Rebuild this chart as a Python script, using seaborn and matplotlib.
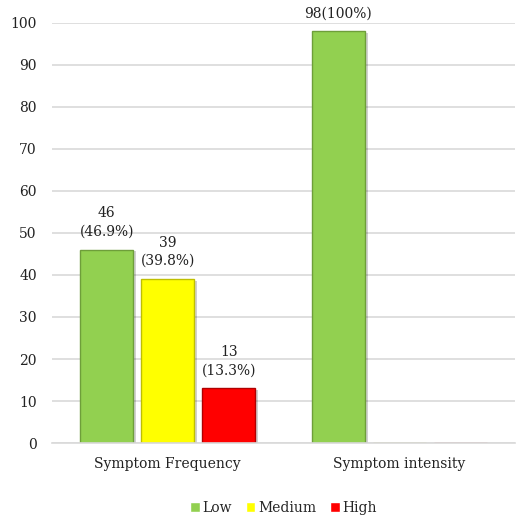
"""Symptom frequency and intensity, grouped bars by level."""
import pandas as pd
import matplotlib.pyplot as plt
import matplotlib.patheffects as pe
import seaborn as sns

CATEGORIES = ["Symptom Frequency", "Symptom intensity"]
LEVELS = ["Low", "Medium", "High"]
FREQUENCY = [46, 39, 13]
INTENSITY = [98, 0, 0]
BAR_LABELS = {
    "Low": ["46\n(46.9%)", "98(100%)"],
    "Medium": ["39\n(39.8%)", ""],
    "High": ["13\n(13.3%)", ""],
}
COLORS = ["#92D050", "#FFFF00", "#FF0000"]
EDGES = ["#6E9E3A", "#BFBF00", "#B00000"]


def main():
    sns.set_theme(style="white")
    plt.rcParams["font.family"] = ["DejaVu Serif", "Liberation Serif"]

    data = pd.DataFrame({
        "category": [CATEGORIES[0]] * 3 + [CATEGORIES[1]] * 3,
        "level": LEVELS * 2,
        "count": FREQUENCY + INTENSITY,
    })

    fig = plt.figure(figsize=(5.22, 5.2), dpi=100)
    ax = fig.add_axes([0.0996, 0.148, 0.887, 0.808])

    sns.barplot(
        data=data, x="category", y="count", hue="level",
        hue_order=LEVELS, order=CATEGORIES, palette=COLORS,
        saturation=1, width=0.79, gap=0.13, ax=ax,
    )

    for container, level, edge in zip(ax.containers, LEVELS, EDGES):
        for bar in container:
            bar.set_edgecolor(edge)
            bar.set_linewidth(1.0)
            bar.set_path_effects([
                pe.SimplePatchShadow(offset=(2, -1), shadow_rgbFace="#000000", alpha=0.18),
                pe.Normal(),
            ])
        ax.bar_label(container, labels=BAR_LABELS[level], padding=8,
                     fontsize=10, color="#222222", linespacing=1.4)

    ax.set_ylim(0, 100)
    ax.set_xlim(-0.5, 1.5)
    ax.set_yticks(range(0, 101, 10))
    ax.yaxis.grid(True, color="#D9D9D9", linewidth=1.2)
    ax.set_axisbelow(True)
    for side in ["top", "right", "left"]:
        ax.spines[side].set_visible(False)
    ax.spines["bottom"].set_color("#D9D9D9")
    ax.spines["bottom"].set_linewidth(1.2)
    ax.tick_params(axis="both", length=0, labelsize=10, colors="#222222")
    ax.tick_params(axis="y", pad=11)
    ax.tick_params(axis="x", pad=10)
    ax.set_xlabel("")
    ax.set_ylabel("")

    handles, labels = ax.get_legend_handles_labels()
    ax.legend(handles, labels, loc="center", bbox_to_anchor=(0.5, -0.155),
              ncol=3, frameon=False, fontsize=10, handlelength=0.7,
              handleheight=0.7, handletextpad=0.2, columnspacing=1.0)

    fig.savefig("out.png", dpi=100)


if __name__ == "__main__":
    main()
